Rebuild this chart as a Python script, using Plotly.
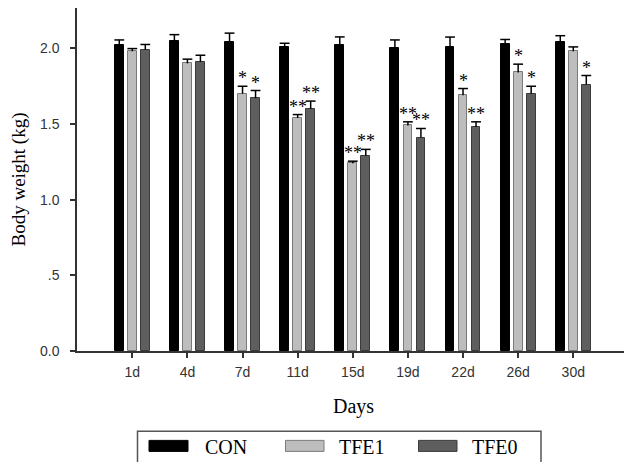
import plotly.graph_objects as go

days = ["1d", "4d", "7d", "11d", "15d", "19d", "22d", "26d", "30d"]
series_names = ["CON", "TFE1", "TFE0"]
con = [2.02, 2.05, 2.04, 2.01, 2.02, 2.00, 2.01, 2.03, 2.04]
con_err = [0.035, 0.040, 0.060, 0.023, 0.055, 0.055, 0.064, 0.028, 0.043]
tfe1 = [1.98, 1.90, 1.70, 1.54, 1.24, 1.49, 1.69, 1.84, 1.98]
tfe1_err = [0.018, 0.028, 0.049, 0.022, 0.014, 0.024, 0.044, 0.055, 0.029]
tfe0 = [1.99, 1.91, 1.67, 1.60, 1.29, 1.41, 1.48, 1.70, 1.76]
tfe0_err = [0.035, 0.044, 0.051, 0.051, 0.042, 0.060, 0.034, 0.049, 0.060]
con_sig = ["", "", "", "", "", "", "", "", ""]
tfe1_sig = ["", "", "*", "**", "**", "**", "*", "*", ""]
tfe0_sig = ["", "", "*", "**", "**", "**", "**", "*", "*"]
y_tickvals = [0, 0.5, 1.0, 1.5, 2.0]
y_ticktext = ["0.0", ".5", "1.0", "1.5", "2.0"]

values = [con, tfe1, tfe0]
errors = [con_err, tfe1_err, tfe0_err]
sigs = [con_sig, tfe1_sig, tfe0_sig]
fills = ["#000000", "#bdbdbd", "#5e5e5e"]
outlines = ["#000000", "#7a7a7a", "#3a3a3a"]
offsets = [-0.236, 0.0, 0.236]
bar_w = 0.16

# the page body has an 8px margin; the figure is sized to fill the rest
OFF = 8
W, H = 632 - OFF, 462 - OFF
L, T = 77 - OFF, 8 - OFF
B = H - (350.7 - OFF)
R = W - (630 - OFF)
pw, ph = W - L - R, H - T - B


def px_x(p):
    return (p - OFF - L) / pw


def px_y(p):
    return (H - B - (p - OFF)) / ph


fig = go.Figure()
idx = list(range(len(days)))
for s in range(3):
    xs = [i + offsets[s] for i in idx]
    fig.add_trace(go.Bar(
        x=xs, y=values[s], width=bar_w, name=series_names[s],
        marker=dict(color=fills[s], line=dict(color=outlines[s], width=1)),
        error_y=dict(type="data", array=errors[s], arrayminus=[0] * len(days),
                     symmetric=False, width=0, thickness=1.5, color="#000000"),
        showlegend=False, hoverinfo="skip",
    ))
    tops = [v + e for v, e in zip(values[s], errors[s])]
    fig.add_trace(go.Scatter(
        x=xs, y=tops, mode="markers",
        marker=dict(symbol="line-ew", size=7, line=dict(color="#000000", width=1.5)),
        showlegend=False, hoverinfo="skip",
    ))
    for i in idx:
        if sigs[s][i]:
            fig.add_annotation(
                x=xs[i], y=tops[i], text=sigs[s][i], showarrow=False,
                xanchor="center", yanchor="bottom", yshift=-3, borderpad=0,
                font=dict(family="Liberation Serif", size=18, color="#000000"),
            )

# custom legend
fig.add_shape(type="rect", xref="paper", yref="paper",
              x0=px_x(137.5), x1=px_x(541), y0=px_y(470), y1=px_y(431),
              line=dict(color="#555555", width=1.5), fillcolor="rgba(0,0,0,0)")
leg_sw = [(149, 188), (285.5, 324), (418.5, 457)]
leg_tx = [203, 337, 470]
for s in range(3):
    fig.add_shape(type="rect", xref="paper", yref="paper",
                  x0=px_x(leg_sw[s][0]), x1=px_x(leg_sw[s][1]),
                  y0=px_y(451), y1=px_y(440),
                  line=dict(color=outlines[s], width=1), fillcolor=fills[s])
    fig.add_annotation(x=px_x(leg_tx[s]), y=px_y(446.5), xref="paper", yref="paper",
                       text=series_names[s], showarrow=False,
                       xanchor="left", yanchor="middle",
                       font=dict(family="Liberation Serif", size=20, color="#000000"))

fig.update_layout(
    width=W, height=H,
    margin=dict(l=L, r=R, t=T, b=B, pad=0),
    paper_bgcolor="white", plot_bgcolor="white",
    bargap=0,
    font=dict(family="Liberation Sans", size=14, color="#333333"),
    xaxis=dict(
        range=[-1.003, 9.029], tickmode="array", tickvals=idx, ticktext=days,
        showline=True, linecolor="#333333", linewidth=1.5,
        ticks="outside", ticklen=5, tickwidth=1.5, tickcolor="#333333",
        showgrid=False, zeroline=False, ticklabelstandoff=2,
        title=dict(text="Days", standoff=20,
                   font=dict(family="Liberation Serif", size=20, color="#000000")),
    ),
    yaxis=dict(
        range=[0, 2.266], tickmode="array", tickvals=y_tickvals, ticktext=y_ticktext,
        showline=True, linecolor="#333333", linewidth=1.5,
        ticks="outside", ticklen=5, tickwidth=1.5, tickcolor="#333333",
        showgrid=False, zeroline=False, ticklabelstandoff=8,
        title=dict(text="Body weight (kg)", standoff=10,
                   font=dict(family="Liberation Serif", size=19, color="#000000")),
    ),
)

fig.write_html("out.html")
